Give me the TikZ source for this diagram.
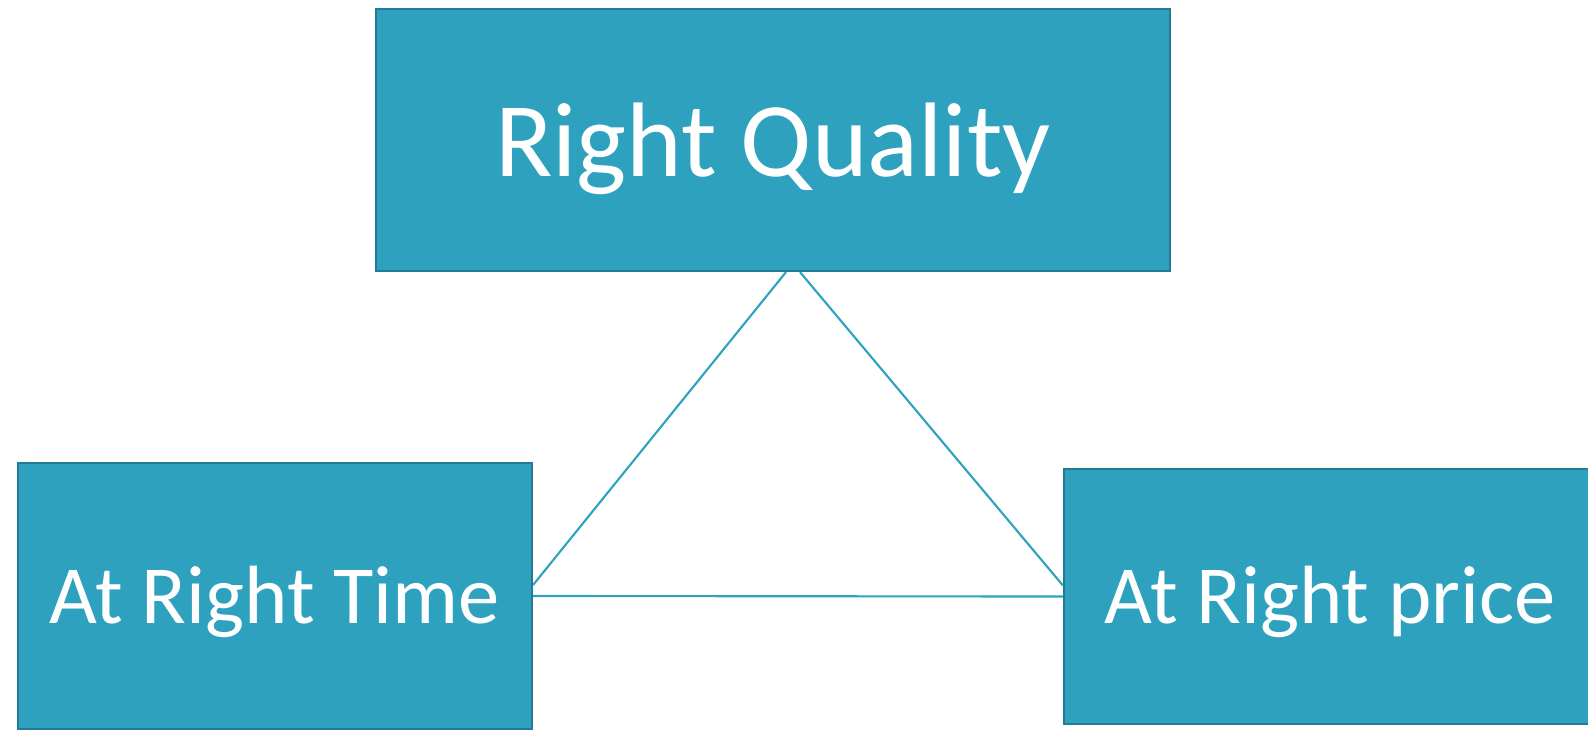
\documentclass[tikz,border=0pt]{standalone}
\usepackage{fontspec}
\setmainfont{Carlito}
\usetikzlibrary{calc}
\definecolor{boxfill}{HTML}{2EA1BF}
\definecolor{boxline}{HTML}{237B93}
\definecolor{conn}{HTML}{2EA3C0}
\begin{document}
\begin{tikzpicture}[x=0.75pt,y=-0.75pt,
  box/.style={draw=boxline, line width=1.6pt, fill=boxfill, text=white, inner sep=0pt, text depth=0pt},
  bigbox/.style={box, minimum width=595.5pt, minimum height=196.5pt, text height=54pt, font=\fontsize{79.5}{80}\selectfont},
  smallbox/.style={box, minimum height=199.5pt, text height=41pt, font=\fontsize{62}{64}\selectfont},
  link/.style={draw=conn, line width=1.6pt}]
\useasboundingbox (0,0) rectangle (1588,736);
\clip (0,0) rectangle (1588,736);
\node[bigbox] (quality) at (773,140) {Right Quality};
\node[smallbox, minimum width=385.5pt] (time) at (275,596) {At Right Time};
\node[smallbox, minimum width=399pt, minimum height=191.25pt] (price) at (1330,596.5) {At Right price};
\draw[link] ($(quality.south)+(13,0)$) -- ($(time.east)+(0,-11)$);
\draw[link] ($(quality.south)+(27,0)$) -- ($(price.west)+(0,-11)$);
\draw[link] (time.east) -- (price.west);
\end{tikzpicture}
\end{document}
